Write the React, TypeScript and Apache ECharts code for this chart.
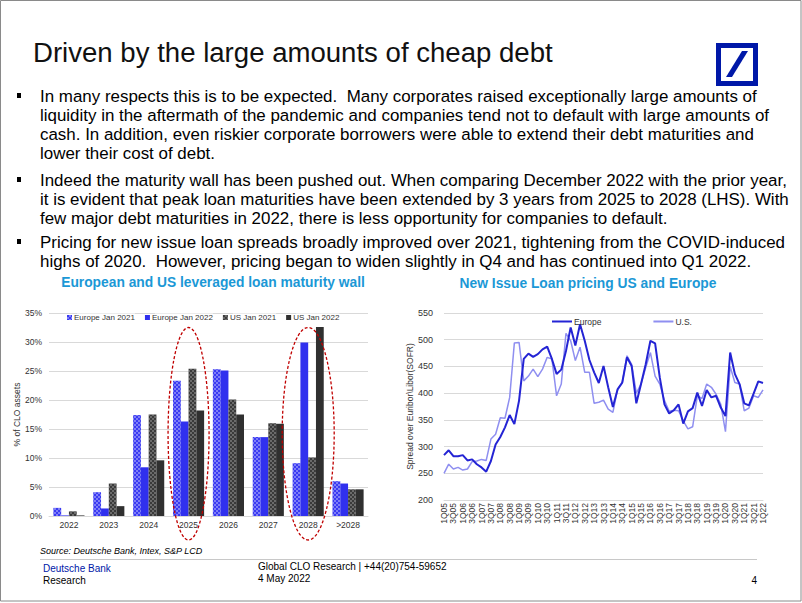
import React, { useEffect, useRef } from "react";
import * as echarts from "echarts";

// ---------- Left chart data ----------
const maturityYears = ["2022", "2023", "2024", "2025", "2026", "2027", "2028", ">2028"];
const europeJan2021 = [1.4, 4.1, 17.4, 23.3, 25.3, 13.6, 9.1, 6.0];
const europeJan2022 = [0.1, 1.3, 8.4, 16.3, 25.1, 13.6, 29.9, 5.6];
const usJan2021 = [0.8, 5.6, 17.5, 25.4, 20.1, 16.0, 10.1, 4.6];
const usJan2022 = [0.1, 1.7, 9.6, 18.2, 17.5, 15.9, 32.6, 4.6];
const highlightedYears = ["2025", "2028"];

// ---------- Right chart data ----------
const quarterYears = ["05", "06", "07", "08", "09", "10", "11", "12", "13", "14", "15", "16", "17", "18", "19", "20", "21", "22"];
const quarters: string[] = [];
quarterYears.forEach((y) => {
  for (let q = 1; q <= 4; q++) {
    if (y === "22" && q > 1) break;
    quarters.push(q + "Q" + y);
  }
});
const europeSpread = [
  284, 293, 282, 282, 284, 274, 276, 267, 261, 253, 273, 304, 318, 336, 359, 342, 386, 464, 474, 468,
  473, 482, 487, 464, 436, 444, 479, 523, 489, 529, 498, 462, 439, 419, 451, 411, 374, 407, 420, 467,
  451, 381, 417, 454, 498, 493, 429, 379, 362, 368, 379, 343, 366, 372, 401, 376, 406, 392, 395, 373,
  357, 476, 436, 417, 381, 377, 399, 422, 419,
];
const usSpread = [
  250, 267, 258, 261, 256, 258, 272, 273, 276, 274, 314, 323, 354, 353, 392, 494, 495, 423, 432, 445,
  431, 445, 467, 464, 395, 417, 512, 498, 461, 486, 439, 439, 381, 383, 387, 370, 364, 407, 419, 470,
  454, 400, 417, 448, 476, 432, 417, 386, 366, 368, 367, 348, 333, 337, 395, 390, 417, 411, 398, 379,
  328, 450, 420, 417, 367, 372, 395, 392, 406,
];

// ---------- Texts ----------
const slideTitle = "Driven by the large amounts of cheap debt";
const bulletLines = [
  ["In many respects this is to be expected.  Many corporates raised exceptionally large amounts of",
    "liquidity in the aftermath of the pandemic and companies tend not to default with large amounts of",
    "cash. In addition, even riskier corporate borrowers were able to extend their debt maturities and",
    "lower their cost of debt."],
  ["Indeed the maturity wall has been pushed out. When comparing December 2022 with the prior year,",
    "it is evident that peak loan maturities have been extended by 3 years from 2025 to 2028 (LHS). With",
    "few major debt maturities in 2022, there is less opportunity for companies to default."],
  ["Pricing for new issue loan spreads broadly improved over 2021, tightening from the COVID-induced",
    "highs of 2020.  However, pricing began to widen slightly in Q4 and has continued into Q1 2022."],
];
const bulletStartY = [96, 180, 242];

const NARROW = "'Liberation Sans Narrow', 'Arial Narrow', 'Liberation Sans', sans-serif";
const SANS = "'Liberation Sans', Arial, Helvetica, sans-serif";
const TEAL = "#1b98d6";
const DB_BLUE = "#0018a8";

function fitSize(text: string, font: string, targetWidth: number, fallback: number) {
  try {
    const ctx = document.createElement("canvas").getContext("2d");
    if (!ctx) return fallback;
    ctx.font = `100px ${font}`;
    const w = ctx.measureText(text).width;
    return w > 0 ? (100 * targetWidth) / w : fallback;
  } catch (e) {
    return fallback;
  }
}

export default function App() {
  const ref = useRef<HTMLDivElement>(null);
  useEffect(() => {
    const chart = echarts.init(ref.current!, null, { renderer: "svg" });

    const titleSize = fitSize(slideTitle, NARROW, 520, 27.5);
    const bodySize = fitSize(bulletLines[1][1], NARROW, 749, 17);

    const checkerLight = {
      symbol: "rect",
      symbolSize: 1,
      color: "rgba(255,255,255,0.35)",
      dashArrayX: [[2, 2], [0, 2, 2, 0]],
      dashArrayY: [2, 0],
    };
    const checkerGray = {
      symbol: "rect",
      symbolSize: 1,
      color: "rgba(255,255,255,0.25)",
      dashArrayX: [[2, 2], [0, 2, 2, 0]],
      dashArrayY: [2, 0],
    };

    const textEls: any[] = [];
    textEls.push({
      type: "text",
      x: 33,
      y: 52,
      style: { text: slideTitle, font: `${titleSize.toFixed(2)}px ${NARROW}`, fill: "#111", verticalAlign: "middle" },
    });
    bulletLines.forEach((lines, bi) => {
      textEls.push({
        type: "rect",
        shape: { x: 17, y: bulletStartY[bi] - 3, width: 4, height: 5 },
        style: { fill: "#000" },
      });
      lines.forEach((ln, li) => {
        textEls.push({
          type: "text",
          x: 40,
          y: bulletStartY[bi] + li * 19.2,
          style: { text: ln, font: `${bodySize.toFixed(2)}px ${NARROW}`, fill: "#000", verticalAlign: "middle" },
        });
      });
    });
    // logo
    textEls.push({
      type: "rect",
      shape: { x: 718.5, y: 45.5, width: 37, height: 38 },
      style: { fill: "none", stroke: DB_BLUE, lineWidth: 5 },
    });
    textEls.push({
      type: "polygon",
      shape: { points: [[726, 77], [732, 77], [748, 51], [742, 51]] },
      style: { fill: DB_BLUE },
    });
    // chart titles
    textEls.push({
      type: "text", x: 213, y: 282,
      style: { text: "European and US leveraged loan maturity wall", font: `bold 13.8px ${SANS}`, fill: TEAL, align: "center", verticalAlign: "middle" },
    });
    textEls.push({
      type: "text", x: 588, y: 283,
      style: { text: "New Issue Loan pricing US and Europe", font: `bold 13.8px ${SANS}`, fill: TEAL, align: "center", verticalAlign: "middle" },
    });
    // footer
    textEls.push({
      type: "text", x: 40, y: 551,
      style: { text: "Source: Deutsche Bank, Intex, S&P LCD", font: `italic 9px ${NARROW}`, fill: "#000", verticalAlign: "middle" },
    });
    textEls.push({
      type: "line", shape: { x1: 40, y1: 559.5, x2: 757, y2: 559.5 },
      style: { stroke: "#c8c8c8", lineWidth: 1 },
    });
    textEls.push({
      type: "text", x: 43, y: 568,
      style: { text: "Deutsche Bank", font: `10px ${NARROW}`, fill: DB_BLUE, verticalAlign: "middle" },
    });
    textEls.push({
      type: "text", x: 43, y: 580,
      style: { text: "Research", font: `10px ${NARROW}`, fill: "#000", verticalAlign: "middle" },
    });
    textEls.push({
      type: "text", x: 258, y: 566,
      style: { text: "Global CLO Research | +44(20)754-59652", font: `10px ${NARROW}`, fill: "#000", verticalAlign: "middle" },
    });
    textEls.push({
      type: "text", x: 258, y: 578,
      style: { text: "4 May 2022", font: `10px ${NARROW}`, fill: "#000", verticalAlign: "middle" },
    });
    textEls.push({
      type: "text", x: 757, y: 580,
      style: { text: "4", font: `10px ${NARROW}`, fill: "#000", align: "right", verticalAlign: "middle" },
    });
    // slide border
    textEls.push({
      type: "rect", shape: { x: 0.5, y: 0.5, width: 800.5, height: 600.5 },
      style: { fill: "none", stroke: "#8a8a8a", lineWidth: 1 },
    });

    const axisLabel = { fontSize: 8.5, color: "#333", fontFamily: SANS };

    const option: any = {
      animation: false,
      backgroundColor: "#fff",
      textStyle: { fontFamily: SANS },
      legend: [
        {
          data: ["Europe Jan 2021", "Europe Jan 2022", "US Jan 2021", "US Jan 2022"],
          left: 62,
          top: 308.5,
          icon: "rect",
          itemWidth: 5,
          itemHeight: 5,
          itemGap: 10,
          textStyle: { fontSize: 8, color: "#333", padding: [0, 0, 0, -3], backgroundColor: "#fff" },
        },
        {
          data: ["Europe", "U.S."],
          left: 547,
          top: 312,
          icon: "rect",
          itemWidth: 20,
          itemHeight: 2,
          itemGap: 52,
          textStyle: { fontSize: 8.5, color: "#333", padding: [0, 0, 0, -3] },
        },
      ],
      grid: [
        { left: 49, right: 802 - 368, top: 313, bottom: 603 - 516 },
        { left: 444, right: 802 - 763, top: 313, bottom: 603 - 500 },
      ],
      xAxis: [
        {
          gridIndex: 0,
          type: "category",
          data: maturityYears,
          axisLine: { lineStyle: { color: "#d9d9d9" } },
          axisTick: { show: false },
          axisLabel: { ...axisLabel, margin: 4 },
        },
        {
          gridIndex: 1,
          type: "category",
          data: quarters,
          boundaryGap: false,
          axisLine: { lineStyle: { color: "#d9d9d9" } },
          axisTick: { show: false },
          axisLabel: { ...axisLabel, rotate: 90, interval: 1, margin: 3 },
        },
      ],
      yAxis: [
        {
          gridIndex: 0,
          type: "value",
          min: 0,
          max: 35,
          interval: 5,
          name: "% of CLO assets",
          nameLocation: "middle",
          nameGap: 21,
          nameTextStyle: { fontSize: 8.5, color: "#333" },
          axisLabel: { ...axisLabel, formatter: "{value}%", margin: 7 },
          splitLine: { lineStyle: { color: "#d9d9d9" } },
        },
        {
          gridIndex: 1,
          type: "value",
          min: 200,
          max: 550,
          interval: 50,
          name: "Spread over Euribor\\Libor(SOFR)",
          nameLocation: "middle",
          nameGap: 24,
          nameTextStyle: { fontSize: 8.5, color: "#333" },
          axisLabel: { ...axisLabel, fontSize: 9, margin: 11 },
          splitLine: { lineStyle: { color: "#d9d9d9" } },
        },
      ],
      series: [
        {
          name: "Europe Jan 2021", type: "bar", xAxisIndex: 0, yAxisIndex: 0, data: europeJan2021,
          barGap: "0%", barCategoryGap: "22%",
          itemStyle: { color: "#3a3af2", decal: checkerLight },
        },
        {
          name: "Europe Jan 2022", type: "bar", xAxisIndex: 0, yAxisIndex: 0, data: europeJan2022,
          itemStyle: { color: "#3030ee" },
        },
        {
          name: "US Jan 2021", type: "bar", xAxisIndex: 0, yAxisIndex: 0, data: usJan2021,
          itemStyle: { color: "#3a3a3a", decal: checkerGray },
        },
        {
          name: "US Jan 2022", type: "bar", xAxisIndex: 0, yAxisIndex: 0, data: usJan2022,
          itemStyle: { color: "#303030" },
        },
        {
          name: "Europe", type: "line", xAxisIndex: 1, yAxisIndex: 1, data: europeSpread,
          showSymbol: false, symbol: "none", z: 3,
          lineStyle: { color: "#2424d4", width: 2 }, itemStyle: { color: "#2424d4" },
        },
        {
          name: "U.S.", type: "line", xAxisIndex: 1, yAxisIndex: 1, data: usSpread,
          showSymbol: false, symbol: "none", z: 2,
          lineStyle: { color: "#8f8ff0", width: 1.5 }, itemStyle: { color: "#8f8ff0" },
        },
      ],
      graphic: textEls,
    };
    chart.setOption(option);

    // Highlight ellipses around 2025 and 2028 (positioned from the axis scale)
    const yTop = chart.convertToPixel({ yAxisIndex: 0 }, 32.5) as number;
    const yBase = chart.convertToPixel({ yAxisIndex: 0 }, 0) as number;
    const ellipses = highlightedYears.map((yr, i) => {
      const cx = chart.convertToPixel({ xAxisIndex: 0 }, yr) as number;
      const bottom = yBase + 24;
      return {
        type: "ellipse",
        shape: { cx, cy: (yTop + bottom) / 2, rx: i === 0 ? 20.5 : 26, ry: (bottom - yTop) / 2 },
        style: { fill: "none", stroke: "#c00000", lineWidth: 1.3, lineDash: [3, 2] },
        z: 100,
      };
    });
    chart.setOption({ graphic: [...textEls, ...ellipses] });

    return () => chart.dispose();
  }, []);
  return (
    <div
      ref={ref}
      style={{ position: "fixed", left: 0, top: 0, width: 802, height: 603, background: "#fff" }}
    />
  );
}
